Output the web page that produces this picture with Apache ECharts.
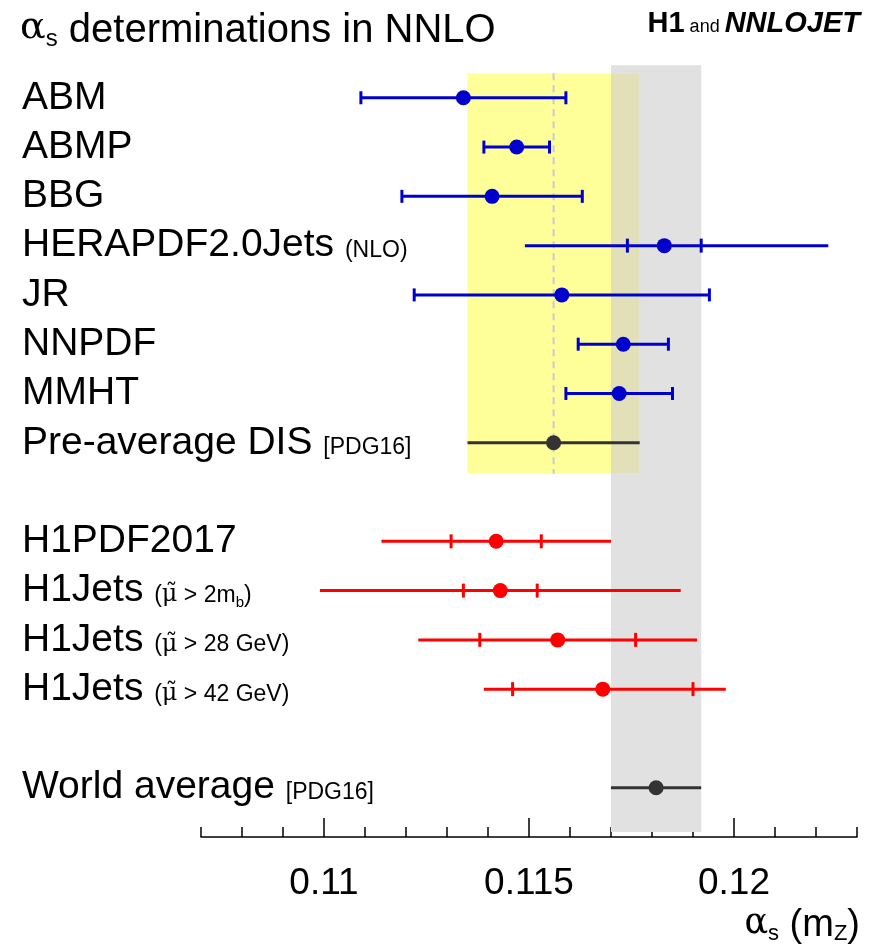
<!DOCTYPE html>
<html>
<head>
<meta charset="utf-8">
<script src="https://cdn.jsdelivr.net/npm/echarts@6/dist/echarts.min.js"></script>
<style>
  html, body { margin: 0; padding: 0; background: #fff; }
  #chart { width: 879px; height: 952px; }
</style>
</head>
<body>
<div id="chart"></div>
<script>
// rows of the plot, top to bottom (row 8 and 13 are gaps)
const rowLabels = ['ABM', 'ABMP', 'BBG', 'HERAPDF2.0Jets', 'JR', 'NNPDF', 'MMHT', 'Pre-average DIS',
  'H1PDF2017', 'H1Jets', 'H1Jets', 'H1Jets', 'World average']
const rowNotes = ['', '', '', '(NLO)', '', '', '', '[PDG16]',
  '', '(μ̃ > 2m_b)', '(μ̃ > 28 GeV)', '(μ̃ > 42 GeV)', '[PDG16]']
const rowIndex = [0, 1, 2, 3, 4, 5, 6, 7, 9, 10, 11, 12, 14]
const groups = ['pdf', 'pdf', 'pdf', 'pdf', 'pdf', 'pdf', 'pdf', 'avg', 'h1', 'h1', 'h1', 'h1', 'avg']

// alpha_s values and uncertainties
const centre = [0.1134, 0.1147, 0.1141, 0.1183, 0.1158, 0.1173, 0.1172, 0.1156, 0.1142, 0.1143, 0.1157, 0.1168, 0.1181]
const totalLow = [0.1109, 0.1139, 0.1119, 0.1149, 0.1122, 0.1162, 0.1159, 0.1135, 0.1114, 0.1099, 0.1123, 0.1139, 0.1170]
const totalHigh = [0.1159, 0.1155, 0.1163, 0.1223, 0.1194, 0.1184, 0.1185, 0.1177, 0.1170, 0.1187, 0.1191, 0.1198, 0.1192]
const innerLow = [null, null, null, 0.1174, null, null, null, null, 0.1131, 0.1134, 0.1138, 0.1146, null]
const innerHigh = [null, null, null, 0.1192, null, null, null, null, 0.1153, 0.1152, 0.1176, 0.1190, null]

// axis
const minorTicks = [0.107, 0.108, 0.109, 0.110, 0.111, 0.112, 0.113, 0.114, 0.115,
  0.116, 0.117, 0.118, 0.119, 0.120, 0.121, 0.122, 0.123]
const majorTicks = [0.11, 0.115, 0.12]
const tickLabels = ['0.11', '0.115', '0.12']

const groupColor = { pdf: '#0000cc', avg: '#333333', h1: '#ff0000' }
const PRE = 7
const WORLD = 12

let myChart = echarts.init(document.getElementById('chart'))

function noteRich (note) {
  if (!note) return ''
  let out = ''
  let s = note
  // split off mu-tilde and one-char subscripts
  while (s.length) {
    if (s.startsWith('μ̃')) { out += '{mu|μ̃}'; s = s.slice(2); continue }
    if (s[0] === '_') { out += '{sub|' + s[1] + '}'; s = s.slice(2); continue }
    let j = 0
    while (j < s.length && s[j] !== '_' && !s.startsWith('μ̃', j)) j++
    out += '{s|' + s.slice(0, j) + '}'
    s = s.slice(j)
  }
  return out
}

function bandItem (params, api) {
  const pre = [totalLow[PRE], totalHigh[PRE]]
  const wld = [totalLow[WORLD], totalHigh[WORLD]]
  const rect = (lo, hi, top, bottom, color) => {
    const p1 = api.coord([lo, top])
    const p2 = api.coord([hi, bottom])
    return { type: 'rect', shape: { x: p1[0], y: p1[1], width: p2[0] - p1[0], height: p2[1] - p1[1] }, style: { fill: color } }
  }
  const dx = api.coord([centre[PRE], -0.5])
  const dy = api.coord([centre[PRE], 7.63])
  return {
    type: 'group',
    children: [
      rect(wld[0], wld[1], -0.66, 14.9, '#e1e1e1'),
      rect(pre[0], pre[1], -0.5, 7.63, '#ffff99'),
      rect(Math.max(pre[0], wld[0]), Math.min(pre[1], wld[1]), -0.5, 7.63, '#e2e0b9'),
      { type: 'line', shape: { x1: dx[0], y1: dx[1], x2: dy[0], y2: dy[1] }, style: { stroke: '#c8c8d8', lineWidth: 2, lineDash: [7, 5] } }
    ]
  }
}

function barItem (params, api) {
  const i = params.dataIndex
  const r = rowIndex[i]
  const y = api.coord([centre[i], r])[1]
  const px = v => api.coord([v, r])[0]
  const col = groupColor[groups[i]]
  const ls = { stroke: col, lineWidth: 3 }
  const children = [
    { type: 'line', shape: { x1: px(totalLow[i]), y1: y, x2: px(totalHigh[i]), y2: y }, style: ls }
  ]
  const tick = (v, h) => ({ type: 'line', shape: { x1: px(v), y1: y - h, x2: px(v), y2: y + h }, style: ls })
  if (innerLow[i] != null) {
    children.push(tick(innerLow[i], 7), tick(innerHigh[i], 7))
  } else if (groups[i] === 'pdf') {
    children.push(tick(totalLow[i], 6.5), tick(totalHigh[i], 6.5))
  }
  children.push({ type: 'circle', shape: { cx: px(centre[i]), cy: y, r: 7.5 }, style: { fill: col } })
  return { type: 'group', children }
}

const gridBox = { left: 201, right: 22, top: 48.5, bottom: 115 }

myChart.setOption({
  animation: false,
  backgroundColor: '#fff',
  grid: [Object.assign({}, gridBox), Object.assign({}, gridBox)],
  xAxis: [
    {
      type: 'value',
      gridIndex: 0,
      min: 0.107,
      max: 0.123,
      position: 'bottom',
      splitLine: { show: false },
      axisLine: { onZero: false, lineStyle: { color: '#000', width: 1.5 } },
      axisTick: { inside: true, length: 10, customValues: minorTicks, lineStyle: { color: '#000', width: 1.5 } },
      axisLabel: {
        customValues: majorTicks,
        formatter: v => tickLabels[majorTicks.findIndex(m => Math.abs(m - v) < 1e-6)],
        fontFamily: 'Liberation Sans',
        fontSize: 37,
        color: '#000',
        margin: 28
      }
    },
    {
      type: 'value',
      gridIndex: 1,
      min: 0.107,
      max: 0.123,
      position: 'bottom',
      splitLine: { show: false },
      axisLine: { show: false, onZero: false },
      axisTick: { inside: true, length: 19, customValues: majorTicks, lineStyle: { color: '#000', width: 1.5 } },
      axisLabel: { show: false }
    }
  ],
  yAxis: [
    {
      type: 'value',
      gridIndex: 0,
      min: -1,
      max: 15,
      inverse: true,
      splitLine: { show: false },
      axisLine: { show: false, onZero: false },
      axisTick: { show: false },
      axisLabel: {
        customValues: rowIndex,
        align: 'left',
        margin: 179,
        formatter: v => {
          const i = rowIndex.indexOf(Math.round(v))
          return '{m|' + rowLabels[i] + (rowNotes[i] ? ' ' : '') + '}' + noteRich(rowNotes[i])
        },
        rich: {
          m: { fontFamily: 'Liberation Sans', fontSize: 39, lineHeight: 39, color: '#000', verticalAlign: 'bottom' },
          s: { fontFamily: 'Liberation Sans', fontSize: 23, lineHeight: 23, color: '#000', verticalAlign: 'bottom', padding: [0, 0, 3, 0] },
          mu: { fontFamily: 'DejaVu Serif', fontSize: 24, lineHeight: 23, color: '#000', verticalAlign: 'bottom', padding: [0, 0, 3, 0] },
          sub: { fontFamily: 'Liberation Sans', fontSize: 15, lineHeight: 15, color: '#000', verticalAlign: 'bottom' }
        }
      }
    },
    {
      type: 'value',
      gridIndex: 1,
      min: -1,
      max: 15,
      inverse: true,
      show: false
    }
  ],
  graphic: [
    {
      type: 'text', left: 20, top: 9,
      style: {
        text: '{a|α}{sub|s}{t| determinations in NNLO}',
        rich: {
          a: { fontFamily: 'DejaVu Serif', fontSize: 38, lineHeight: 44, color: '#000', verticalAlign: 'bottom', padding: [0, 0, 4, 0] },
          sub: { fontFamily: 'Liberation Sans', fontSize: 24, lineHeight: 24, color: '#000', verticalAlign: 'bottom' },
          t: { fontFamily: 'Liberation Sans', fontSize: 40, lineHeight: 44, color: '#000', verticalAlign: 'bottom' }
        }
      }
    },
    {
      type: 'text', right: 19, top: 9,
      style: {
        text: '{b|H1}{a| and }{bi|NNLOJET}',
        rich: {
          b: { fontFamily: 'Liberation Sans', fontSize: 29, fontWeight: 'bold', lineHeight: 29, color: '#000', verticalAlign: 'bottom' },
          a: { fontFamily: 'Liberation Sans', fontSize: 18, lineHeight: 18, color: '#000', verticalAlign: 'bottom', padding: [0, 0, 2, 0] },
          bi: { fontFamily: 'Liberation Sans', fontSize: 29, fontWeight: 'bold', fontStyle: 'italic', lineHeight: 29, color: '#000', verticalAlign: 'bottom' }
        }
      }
    },
    {
      type: 'text', right: 19, top: 906,
      style: {
        text: '{a|α}{sub|s}{t| (m}{sub|Z}{t|)}',
        rich: {
          a: { fontFamily: 'DejaVu Serif', fontSize: 35, lineHeight: 40, color: '#000', verticalAlign: 'bottom', padding: [0, 0, 4, 0] },
          sub: { fontFamily: 'Liberation Sans', fontSize: 22, lineHeight: 22, color: '#000', verticalAlign: 'bottom' },
          t: { fontFamily: 'Liberation Sans', fontSize: 38, lineHeight: 40, color: '#000', verticalAlign: 'bottom' }
        }
      }
    }
  ],
  series: [
    {
      type: 'custom',
      silent: true,
      xAxisIndex: 0,
      yAxisIndex: 0,
      renderItem: bandItem,
      data: [[centre[PRE], 0]],
      z: 1
    },
    {
      type: 'custom',
      silent: true,
      xAxisIndex: 0,
      yAxisIndex: 0,
      renderItem: barItem,
      encode: { x: 0, y: 1 },
      data: rowIndex.map((r, i) => [centre[i], r]),
      z: 2
    }
  ]
})
</script>
</body>
</html>
